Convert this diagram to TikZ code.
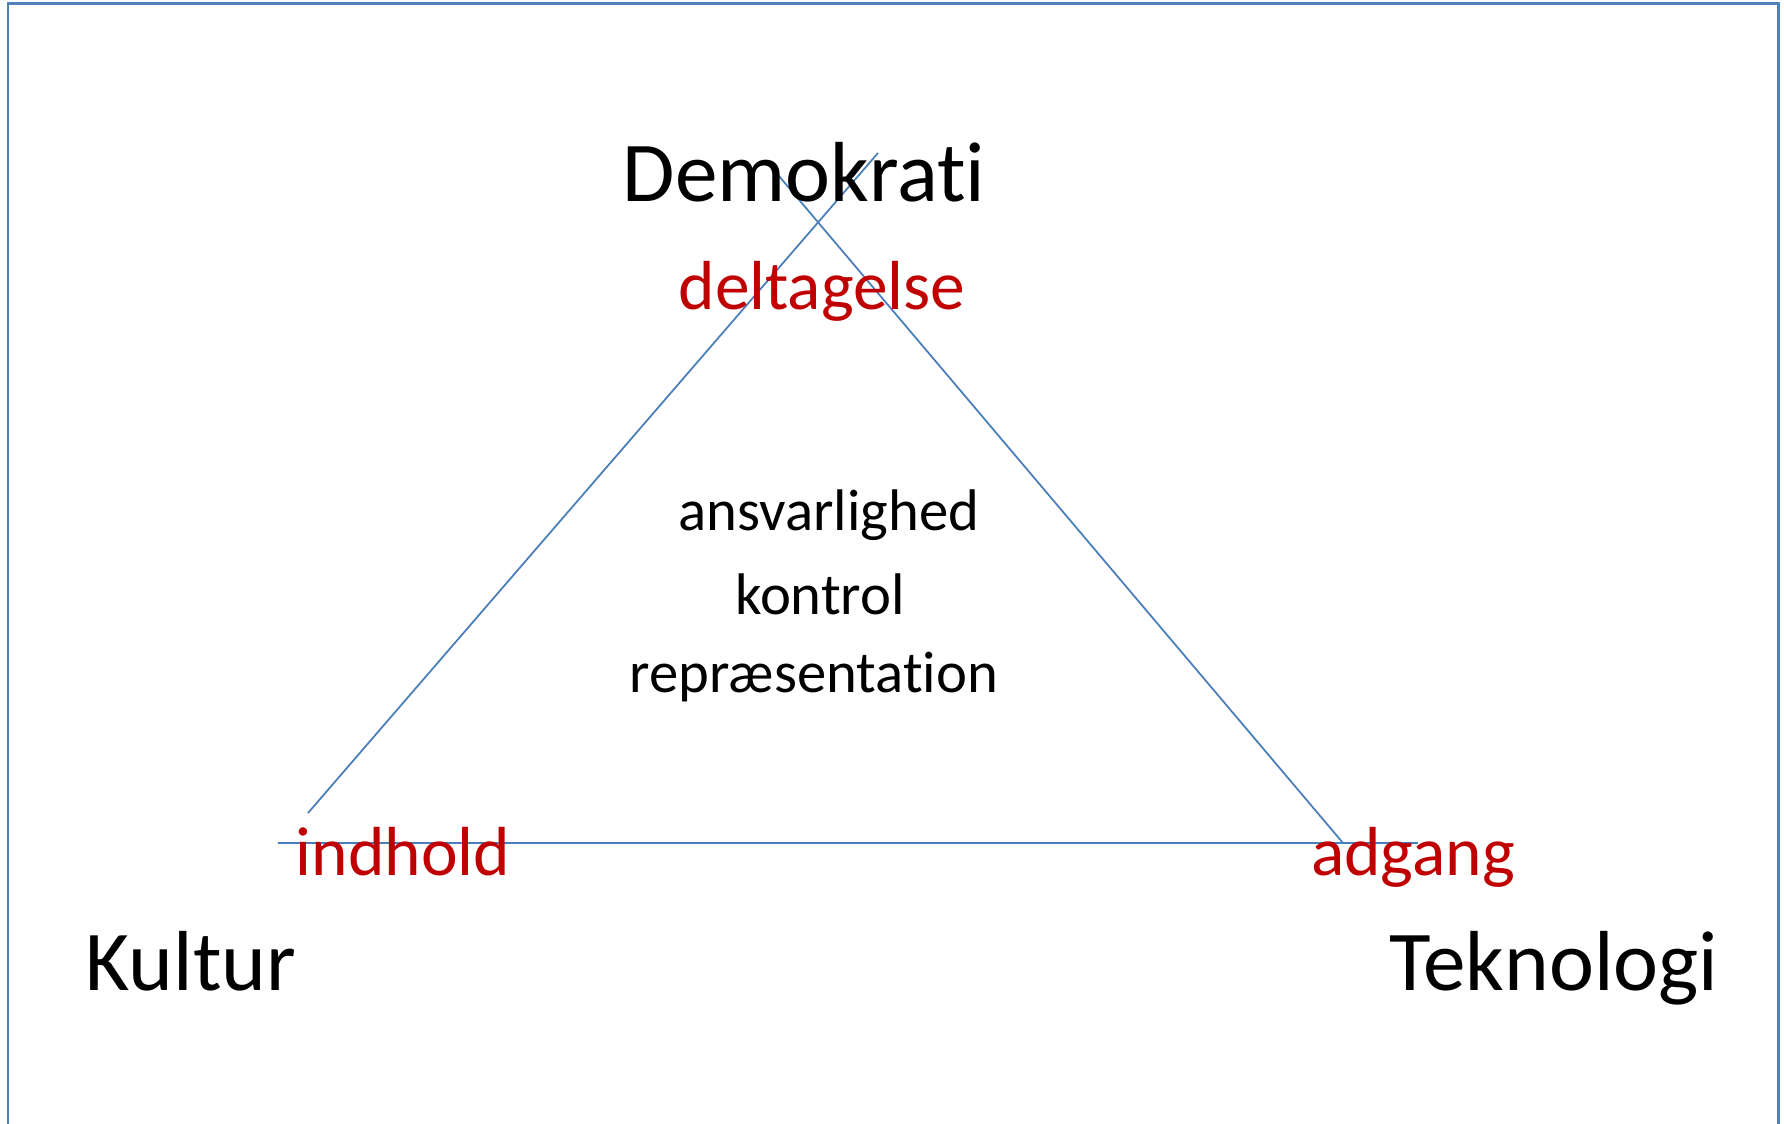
\documentclass[tikz,border=0pt]{standalone}
\usepackage{fontspec}
\setmainfont[Ligatures=NoCommon]{Carlito}
\definecolor{frameblue}{HTML}{4F81BD}
\definecolor{lineblue}{HTML}{4A7EBB}
\definecolor{darkred}{HTML}{C00000}
\tikzset{
  corner/.style={anchor=base, font=\fontsize{48.5}{52}\selectfont},
  aspect/.style={anchor=base, text=darkred, font=\fontsize{39.5}{43}\selectfont},
  inner/.style={anchor=base, font=\fontsize{33.4}{36}\selectfont},
  edge/.style={lineblue, line width=1pt}
}
\begin{document}
\begin{tikzpicture}[x=0.02cm, y=-0.02cm]
	\useasboundingbox (0,0) rectangle (1784,1124);
	% Frame (open at the bottom)
	\draw[frameblue, line width=1.7pt] (8,1124) -- (8,4) -- (1778,4) -- (1778,1124);
	
	% Triangle line ends
	\coordinate (lefttop) at (878,153);
	\coordinate (leftbot) at (308,813);
	\coordinate (righttop) at (773,169);
	\coordinate (rightbot) at (1343,843);
	\coordinate (baseleft) at (278,843);
	\coordinate (baseright) at (1418,843);
	\draw[edge] (leftbot) -- (lefttop);
	\draw[edge] (righttop) -- (rightbot);
	\draw[edge] (baseleft) -- (baseright);
	
	% Corners
	\node[corner] (demokrati) at (804,202) {Demokrati};
	\node[corner] (kultur) at (191,990) {Kultur};
	\node[corner] (teknologi) at (1554,990) {Teknologi};
	
	% Aspects
	\node[aspect] (deltagelse) at (822,310) {deltagelse};
	\node[aspect] (indhold) at (403,875) {indhold};
	\node[aspect] (adgang) at (1413,875) {adgang};
	
	% Middle
	\node[inner] (ansvar) at (829,531) {ansvarlighed};
	\node[inner] (kontrol) at (820,614) {kontrol};
	\node[inner] (repr) at (814,692) {repræsentation};
\end{tikzpicture}
\end{document}
